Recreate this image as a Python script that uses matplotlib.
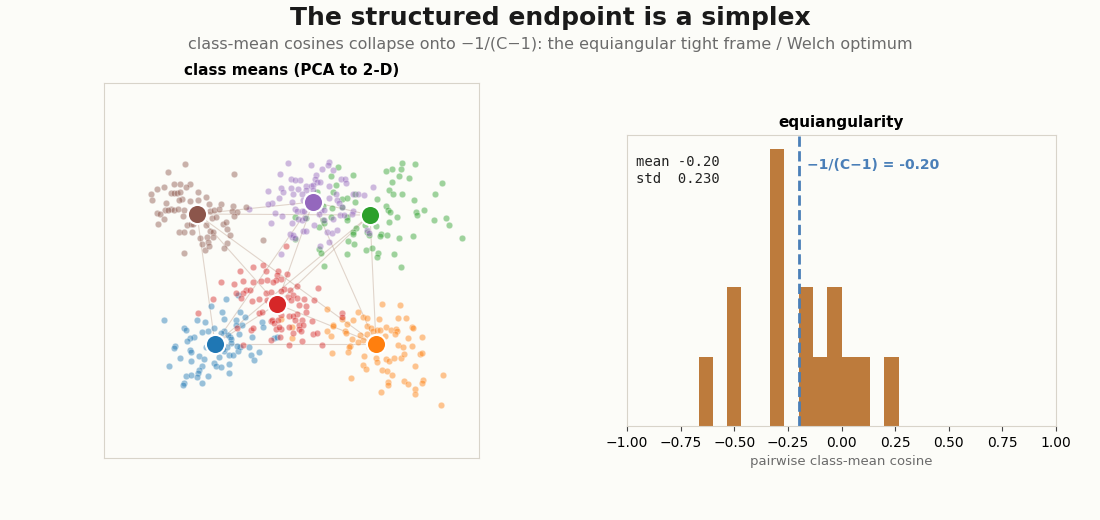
import numpy as np
import matplotlib
matplotlib.use("Agg")
import matplotlib.pyplot as plt
from itertools import combinations

# class order / colours (tab10)
classes = ["blue", "orange", "green", "red", "purple", "brown"]
colors = {"blue": "#1f77b4", "orange": "#ff7f0e", "green": "#2ca02c",
          "red": "#d62728", "purple": "#9467bd", "brown": "#8c564b"}

# class means, PCA units
means = {"blue": (-7.5, -7.4), "orange": (8.6, -7.4), "green": (8.0, 5.5),
         "red": (-1.3, -3.4), "purple": (2.3, 6.8), "brown": (-9.3, 5.6)}

# per-sample features projected with the same PCA
brown_pts = [(-10.5, 10.6), (-12.2, 9.8), (-5.6, 9.6), (-11.6, 8.6), (-11.0, 8.6), (-10.0, 8.6),
             (-10.4, 8.3), (-13.3, 8.1), (-12.6, 8.3), (-13.9, 7.6), (-11.9, 7.7), (-11.6, 7.7),
             (-11.3, 7.7), (-11.0, 7.8), (-9.2, 7.8), (-13.8, 7.0), (-10.8, 7.1), (-11.1, 7.0),
             (-10.0, 6.9), (-9.2, 7.0), (-8.4, 7.3), (-12.4, 6.7), (-8.1, 6.6), (-6.9, 6.6),
             (-5.7, 6.4), (-4.4, 6.3), (-12.5, 6.0), (-11.9, 6.1), (-11.6, 6.0), (-11.2, 6.1),
             (-10.6, 6.0), (-13.3, 5.7), (-13.0, 5.6), (-12.2, 6.0), (-10.7, 5.4), (-8.0, 5.9),
             (-7.6, 6.0), (-7.1, 6.1), (-5.8, 5.9), (-5.3, 5.8), (-5.6, 5.4), (-12.6, 5.1),
             (-7.8, 5.2), (-7.4, 5.3), (-13.2, 4.6), (-10.3, 4.5), (-9.9, 4.6), (-9.7, 4.6),
             (-8.4, 4.5), (-6.7, 4.6), (-6.4, 4.8), (-6.3, 4.1), (-11.1, 3.8), (-10.6, 3.8),
             (-9.8, 3.8), (-8.0, 3.9), (-7.7, 3.8), (-6.0, 3.5), (-9.0, 3.2), (-8.3, 3.3),
             (-7.7, 3.3), (-8.2, 2.8), (-8.8, 2.6), (-6.3, 2.7), (-6.6, 2.2), (-8.5, 2.0),
             (-8.1, 2.4), (-10.6, 1.7), (-2.7, 3.0)]
purple_pts = [(-0.2, 10.7), (-1.0, 9.6), (-2.2, 7.9), (-0.9, 8.2), (-0.7, 7.8), (-1.1, 7.2),
              (-1.8, 6.7), (-2.2, 6.6), (-1.5, 5.7), (-0.8, 5.4), (-1.9, 4.7), (0.1, 9.1),
              (0.1, 8.2), (0.0, 3.6), (0.2, 3.3), (-0.9, 1.6), (-4.1, 6.1), (2.1, 10.5),
              (3.9, 10.8), (3.8, 10.5), (3.2, 10.1), (4.3, 10.0), (2.6, 9.5), (2.5, 9.1),
              (1.0, 9.0), (0.5, 9.0), (2.7, 8.8), (3.0, 8.8), (5.1, 9.1), (5.5, 9.1),
              (5.6, 8.7), (1.6, 8.4), (2.1, 8.4), (2.3, 8.5), (0.8, 8.1), (3.9, 8.4),
              (1.6, 8.0), (2.3, 8.0), (0.3, 7.6), (1.2, 7.6), (4.6, 7.6), (6.3, 7.6),
              (6.8, 7.6), (7.4, 7.5), (8.3, 8.3), (3.9, 7.2), (4.7, 7.0), (1.3, 7.0),
              (0.2, 6.8), (4.9, 6.7), (5.2, 6.3), (0.5, 6.1), (0.7, 5.9), (1.2, 5.9),
              (1.4, 5.9), (3.1, 6.0), (3.4, 6.0), (6.3, 5.9), (6.2, 5.6), (5.0, 5.5),
              (5.4, 5.5), (2.9, 5.6), (0.8, 5.1), (1.2, 5.0), (1.5, 5.2), (4.3, 5.1),
              (3.4, 5.0), (0.2, 4.7), (2.4, 4.5), (1.3, 3.9), (1.6, 3.9), (3.7, 3.8),
              (4.2, 3.7), (4.7, 4.0), (0.3, 3.5), (0.5, 3.2), (7.7, 4.0), (7.9, 3.7),
              (3.9, 2.8), (3.0, 2.4)]
green_pts = [(11.2, 10.7), (12.5, 10.6), (10.2, 10.1), (11.1, 10.1), (9.6, 9.9), (4.8, 10.3),
             (4.1, 9.4), (6.3, 9.5), (10.9, 9.4), (11.9, 9.2), (10.2, 8.8), (15.2, 8.7),
             (4.6, 8.5), (9.9, 8.0), (10.3, 7.6), (11.2, 7.6), (14.5, 7.6), (4.3, 7.8),
             (2.7, 7.8), (6.5, 7.6), (8.7, 7.1), (12.4, 7.0), (5.2, 7.1), (5.7, 7.2),
             (6.5, 6.8), (3.3, 6.4), (4.2, 6.2), (9.6, 6.4), (9.8, 6.0), (10.0, 5.8),
             (13.4, 6.0), (12.6, 5.8), (12.7, 5.5), (5.2, 6.3), (0.5, 5.3), (1.6, 5.2),
             (3.3, 5.0), (4.1, 5.3), (5.7, 5.3), (5.7, 5.0), (10.7, 5.3), (9.9, 4.8),
             (14.4, 5.0), (15.6, 5.2), (15.9, 4.5), (7.5, 4.5), (8.6, 4.4), (2.9, 4.3),
             (3.4, 4.7), (6.6, 4.2), (6.3, 3.8), (6.3, 3.6), (7.7, 3.8), (7.9, 3.5),
             (9.1, 3.6), (9.0, 3.4), (9.7, 3.5), (10.9, 3.2), (12.3, 3.4), (17.2, 3.2),
             (0.5, 3.1), (5.8, 2.9), (6.4, 2.6), (7.6, 2.0), (8.2, 2.2), (5.7, 1.6),
             (8.8, 1.7), (8.7, 1.3), (10.4, 1.6), (3.4, 0.4), (11.1, 0.3), (2.9, 2.1),
             (3.1, 1.7)]
red_pts = [(-0.4, 2.4), (-2.7, 0.5), (-3.7, 0.3), (-2.4, -0.1), (-1.2, -0.1), (-5.0, -0.1),
           (-1.3, -0.5), (-0.3, -0.4), (-0.9, -0.9), (-1.4, -1.0), (-6.9, -1.2), (-5.6, -1.4),
           (-4.7, -1.1), (-3.7, -1.2), (-2.9, -1.1), (-2.3, -1.0), (-1.7, -1.2), (-4.4, -2.0),
           (-4.0, -2.0), (-4.7, -2.3), (-5.4, -2.3), (-2.4, -2.3), (-1.9, -2.2), (-0.6, -1.9),
           (-0.9, -2.1), (-7.7, -2.9), (-4.9, -2.8), (-3.1, -2.9), (-2.3, -3.0), (-0.2, -2.7),
           (0.1, -3.0), (-9.2, -4.3), (-3.1, -4.3), (-2.8, -4.2), (-1.9, -5.1), (-1.8, -5.0),
           (-1.6, -5.3), (-1.2, -5.0), (-0.9, -4.5), (-0.1, -4.6), (-0.9, -5.9), (-1.4, -5.9),
           (-1.1, -5.7), (-5.3, -5.8), (-3.9, -6.0), (-3.7, -5.8), (-0.1, -5.7), (0.3, -6.3),
           (-1.9, -7.0), (-1.0, -6.7), (-4.7, -7.5), (-0.1, -7.5), (-3.8, -3.1), (0.7, -1.6),
           (2.8, -1.8), (0.0, -2.0), (0.3, -2.5), (0.7, -2.8), (1.4, -2.9), (2.4, -3.0),
           (0.9, -3.5), (1.6, -3.6), (1.6, -4.2), (0.7, -4.4), (0.3, -4.6), (0.5, -5.0),
           (1.2, -5.0), (2.2, -5.1), (0.9, -5.5), (1.3, -5.5), (0.9, -5.9), (1.1, -6.1),
           (2.3, -6.4), (2.7, -6.3), (1.2, -7.1), (3.2, -7.5), (5.2, -4.3), (5.2, -4.7)]
blue_pts = [(-12.6, -5.0), (-9.3, -5.0), (-8.5, -5.2), (-7.9, -3.6), (-6.4, -2.9), (-6.8, -4.2),
            (-6.6, -4.9), (-10.6, -5.8), (-10.4, -6.0), (-9.6, -6.7), (-10.0, -6.8), (-10.3, -7.1),
            (-8.8, -6.2), (-8.2, -6.1), (-7.6, -5.8), (-11.5, -7.6), (-11.6, -7.8), (-10.0, -8.0),
            (-9.9, -8.2), (-8.4, -7.7), (-11.0, -8.8), (-9.9, -9.1), (-9.1, -8.6), (-8.6, -8.9),
            (-12.1, -9.6), (-8.8, -9.6), (-9.1, -10.0), (-9.2, -10.3), (-7.6, -9.3), (-7.4, -9.6),
            (-6.9, -9.7), (-10.4, -10.6), (-9.9, -10.5), (-9.3, -10.7), (-8.2, -10.6), (-10.6, -11.3),
            (-10.7, -11.5), (-8.8, -11.3), (-6.1, -9.4), (-6.1, -10.3), (-7.1, -8.7), (-6.6, -8.1),
            (-6.1, -8.5), (-5.7, -8.5), (-5.2, -8.1), (-5.0, -7.7), (-4.1, -7.7), (-3.9, -8.5),
            (-3.6, -9.0), (-3.1, -8.2), (-3.8, -6.7), (-5.1, -6.4), (-6.0, -6.7), (-6.2, -6.5),
            (-6.6, -6.1), (-6.9, -6.3), (-5.4, -5.0), (-5.4, -5.5), (-5.0, -4.2), (-4.5, -4.7),
            (-4.8, -5.5), (-5.9, -6.9), (-5.9, -7.3), (-5.3, -7.6), (-6.3, -7.7), (-6.7, -7.9),
            (-2.8, -5.2), (-2.7, -5.7), (-1.6, -6.8), (-1.3, -6.7), (-5.2, -2.5)]
orange_pts = [(9.2, -3.4), (11.0, -3.5), (3.7, -3.9), (6.8, -4.2), (5.2, -4.9), (7.3, -4.7),
              (7.7, -4.8), (8.9, -4.9), (10.8, -4.8), (11.6, -4.8), (6.3, -5.0), (5.7, -5.4),
              (4.3, -5.5), (4.3, -5.6), (5.5, -6.1), (5.6, -6.3), (3.7, -6.1), (4.1, -6.6),
              (7.7, -5.6), (8.1, -5.8), (8.3, -6.1), (8.7, -6.0), (9.0, -6.0), (9.6, -5.7),
              (10.1, -6.0), (10.6, -5.9), (10.7, -6.1), (12.2, -5.7), (12.3, -5.8), (7.0, -6.5),
              (7.3, -7.0), (6.8, -7.2), (6.2, -6.9), (7.7, -6.4), (9.5, -6.6), (10.5, -6.4),
              (11.8, -6.8), (13.2, -6.7), (6.0, -7.6), (5.9, -7.7), (7.9, -7.7), (10.8, -7.5),
              (11.3, -7.7), (12.2, -7.6), (5.8, -8.2), (4.2, -8.3), (7.4, -8.6), (8.6, -8.8),
              (8.7, -9.2), (9.6, -8.9), (9.9, -9.1), (10.4, -8.8), (11.1, -8.8), (11.4, -8.4),
              (13.0, -8.4), (13.2, -8.3), (7.3, -9.5), (7.6, -9.9), (9.2, -10.0), (9.7, -10.1),
              (10.2, -10.5), (12.5, -9.6), (6.1, -10.8), (9.8, -11.2), (9.8, -11.5), (11.4, -11.1),
              (11.8, -11.4), (13.3, -11.0), (13.2, -11.3), (15.3, -10.5), (9.1, -12.2), (12.5, -11.9),
              (12.5, -12.4), (15.1, -13.5), (0.2, -6.8), (0.2, -5.7), (-0.9, -4.9)]
points = {"blue": blue_pts, "orange": orange_pts, "green": green_pts,
          "red": red_pts, "purple": purple_pts, "brown": brown_pts}

# 15 pairwise cosines between the 6 class means
cosines = [-0.64, -0.52, -0.49, -0.31, -0.30, -0.29, -0.28, -0.17, -0.15,
           -0.10, -0.05, -0.02, 0.01, 0.07, 0.24]
n_classes = len(classes)
etf = -1.0 / (n_classes - 1)

BG = "#fcfcf8"
SPINE = "#d8d4ca"

fig = plt.figure(figsize=(11, 5.2), dpi=100, facecolor=BG)
fig.text(0.5, 0.965, "The structured endpoint is a simplex", ha="center", va="center",
         fontsize=18, fontweight="bold", color="#1a1a1a")
fig.text(0.5, 0.915, "class-mean cosines collapse onto \u22121/(C\u22121): the equiangular tight frame / Welch optimum",
         ha="center", va="center", fontsize=11.5, color="#6b6b6b")

# left: PCA scatter, simplex edges drawn under the samples
ax1 = fig.add_axes([0.0945, 0.1192, 0.341, 0.7212], facecolor=BG)
for a, b in combinations(classes, 2):
    ax1.plot([means[a][0], means[b][0]], [means[a][1], means[b][1]],
             color="#b89a88", alpha=0.4, lw=0.8, zorder=1)
for c in classes:
    pts = np.array(points[c])
    ax1.scatter(pts[:, 0], pts[:, 1], s=22, color=colors[c], alpha=0.45,
                edgecolors="white", linewidths=0.4, zorder=2)
for c in classes:
    ax1.scatter(*means[c], s=190, color=colors[c], edgecolors="white",
                linewidths=1.5, zorder=4)
ax1.set_xlim(-18.6, 18.9)
ax1.set_ylim(-18.8, 18.7)
ax1.set_xticks([])
ax1.set_yticks([])
for s in ax1.spines.values():
    s.set_color(SPINE)
ax1.set_title("class means (PCA to 2-D)", fontsize=11, fontweight="bold", pad=6)

# right: histogram of pairwise cosines
ax2 = fig.add_axes([0.570, 0.1808, 0.39, 0.5596], facecolor=BG)
ax2.hist(cosines, bins=np.linspace(-1, 1, 31), color="#bd7b3c")
ax2.axvline(etf, color="#4a7fb8", ls="--", lw=2)
ax2.set_xlim(-1, 1)
ticks = np.arange(-1, 1.01, 0.25)
ax2.set_xticks(ticks)
ax2.set_xticklabels([f"{t:.2f}".replace("-", "\u2212") for t in ticks])
ax2.set_yticks([])
ax2.tick_params(axis="x", labelsize=10, color="#444444")
for s in ax2.spines.values():
    s.set_color(SPINE)
ax2.set_xlabel("pairwise class-mean cosine", fontsize=9.5, color="#6b6b6b")
ax2.set_title("equiangularity", fontsize=11, fontweight="bold", pad=6)
ax2.text(0.02, 0.93, f"mean {np.mean(cosines):.2f}\nstd  {np.std(cosines):.3f}",
         transform=ax2.transAxes, family="DejaVu Sans Mono", fontsize=10,
         va="top", ha="left", color="#222222")
ax2.text(etf + 0.04, 0.898, f"\u22121/(C\u22121) = {etf:.2f}", transform=ax2.get_xaxis_transform(),
         fontsize=10, fontweight="bold", color="#4a7fb8", va="center")

fig.savefig("out.png", dpi=100, facecolor=BG)
